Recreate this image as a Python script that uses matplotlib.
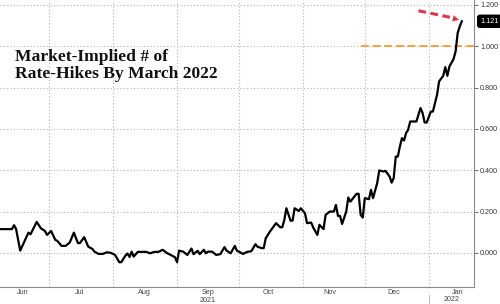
import pandas as pd
import matplotlib
matplotlib.use('Agg')
import matplotlib.pyplot as plt
import matplotlib.dates as mdates
import matplotlib.transforms as mtrans
from matplotlib.ticker import FixedLocator

# valores (numero de subidas implicitas ate marco 2022)
datas = ['2021-06-07', '2021-06-13', '2021-06-14', '2021-06-15', '2021-06-17', '2021-06-21',
         '2021-06-22', '2021-06-25', '2021-06-27', '2021-06-29', '2021-06-30',
         '2021-07-02', '2021-07-04', '2021-07-05', '2021-07-07', '2021-07-09', '2021-07-11',
         '2021-07-13', '2021-07-15', '2021-07-16', '2021-07-18', '2021-07-20', '2021-07-22',
         '2021-07-23', '2021-07-25', '2021-07-27', '2021-07-29', '2021-07-31',
         '2021-08-02', '2021-08-04', '2021-08-05', '2021-08-07', '2021-08-08', '2021-08-09',
         '2021-08-10', '2021-08-11', '2021-08-13', '2021-08-17', '2021-08-19', '2021-08-21',
         '2021-08-23', '2021-08-25', '2021-08-27', '2021-08-31',
         '2021-09-01', '2021-09-02', '2021-09-04', '2021-09-06', '2021-09-08', '2021-09-09',
         '2021-09-11', '2021-09-12', '2021-09-14', '2021-09-15', '2021-09-16', '2021-09-18',
         '2021-09-20', '2021-09-22', '2021-09-24', '2021-09-25', '2021-09-27', '2021-09-29',
         '2021-09-30',
         '2021-10-03', '2021-10-05', '2021-10-07', '2021-10-09', '2021-10-10', '2021-10-12',
         '2021-10-13', '2021-10-14', '2021-10-16', '2021-10-19', '2021-10-21', '2021-10-22',
         '2021-10-23', '2021-10-24', '2021-10-26', '2021-10-27', '2021-10-28', '2021-10-30',
         '2021-10-31',
         '2021-11-02', '2021-11-03', '2021-11-05', '2021-11-06', '2021-11-08', '2021-11-09',
         '2021-11-11', '2021-11-12', '2021-11-14', '2021-11-16', '2021-11-17', '2021-11-18',
         '2021-11-19', '2021-11-20', '2021-11-22', '2021-11-23', '2021-11-24', '2021-11-26',
         '2021-11-27', '2021-11-28', '2021-11-29', '2021-11-30',
         '2021-12-01', '2021-12-03', '2021-12-04', '2021-12-05', '2021-12-07', '2021-12-08',
         '2021-12-10', '2021-12-11', '2021-12-13', '2021-12-14', '2021-12-15', '2021-12-16',
         '2021-12-17', '2021-12-18', '2021-12-19', '2021-12-20', '2021-12-21', '2021-12-22',
         '2021-12-23', '2021-12-24', '2021-12-26', '2021-12-28', '2021-12-29', '2021-12-30',
         '2021-12-31',
         '2022-01-02', '2022-01-03', '2022-01-05', '2022-01-06', '2022-01-08', '2022-01-09',
         '2022-01-10', '2022-01-11', '2022-01-13', '2022-01-14', '2022-01-15', '2022-01-16',
         '2022-01-17']

subidas = [0.115, 0.115, 0.134, 0.116, 0.011, 0.098,
           0.090, 0.150, 0.119, 0.106, 0.087,
           0.106, 0.063, 0.058, 0.034, 0.034, 0.050,
           0.098, 0.047, 0.048, 0.076, 0.030, 0.019,
           0.006, -0.005, -0.005, 0.003, 0.000,
           -0.010, -0.045, -0.045, -0.013, -0.003, -0.020,
           0.006, -0.018, 0.005, 0.005, -0.002, 0.005,
           0.005, 0.015, 0.000, -0.021,
           -0.045, 0.011, 0.006, -0.010, 0.021, -0.006,
           0.010, -0.006, 0.015, -0.002, 0.006, 0.006,
           -0.010, -0.006, 0.028, 0.011, -0.002, 0.034,
           0.011,
           -0.005, 0.005, 0.008, 0.042, 0.030, 0.023,
           0.023, 0.071, 0.103, 0.144, 0.124, 0.124,
           0.160, 0.216, 0.156, 0.156, 0.216, 0.203,
           0.216,
           0.192, 0.144, 0.147, 0.123, 0.087, 0.136,
           0.115, 0.184, 0.200, 0.200, 0.232, 0.179,
           0.179, 0.140, 0.200, 0.268, 0.248, 0.273,
           0.286, 0.286, 0.184, 0.171,
           0.265, 0.260, 0.305, 0.265, 0.338, 0.399,
           0.394, 0.397, 0.370, 0.340, 0.362, 0.466,
           0.466, 0.515, 0.555, 0.544, 0.580, 0.596,
           0.636, 0.636, 0.636, 0.701, 0.677, 0.631,
           0.631,
           0.684, 0.684, 0.765, 0.830, 0.857, 0.899,
           0.857, 0.902, 0.938, 0.975, 1.064, 1.096,
           1.121]

y_ticks = [0.0, 0.2, 0.4, 0.6, 0.8, 1.0, 1.2]
# onde ficam os nomes dos meses (a meio da parte visivel de cada mes)
meses_pos = ['2021-06-18', '2021-07-16', '2021-08-16', '2021-09-16',
             '2021-10-15', '2021-11-14', '2021-12-15', '2022-01-15']
meses = ['Jun', 'Jul', 'Aug', 'Sep', 'Oct', 'Nov', 'Dec', 'Jan']
ultimo = 1.121

df = pd.DataFrame({'data': pd.to_datetime(datas), 'valor': subidas})

fig = plt.figure(figsize=(5.0, 3.04), dpi=100)
ax = fig.add_axes([0.0, 0.056, 0.948, 0.944])

ax.plot(df['data'], df['valor'], color='black', lw=1.6, zorder=3)

ax.set_xlim(pd.Timestamp('2021-06-07 05:00'), pd.Timestamp('2022-01-22 22:00'))
ax.set_ylim(-0.165, 1.224)

# eixo y a direita
ax.yaxis.tick_right()
ax.set_yticks(y_ticks)
ax.set_yticklabels([f'{v:.3f}' for v in y_ticks])
ax.tick_params(axis='y', length=3, width=0.6, color='#555555', pad=1.5,
               labelsize=5.2, labelcolor='#333333')
for lab in ax.get_yticklabels():
    lab.set_family('Liberation Sans')

# eixo x: grelha no inicio de cada mes, nomes a meio do mes
ax.xaxis.set_major_locator(mdates.MonthLocator())
ax.xaxis.set_major_formatter(plt.NullFormatter())
ax.xaxis.set_minor_locator(FixedLocator(mdates.date2num(pd.to_datetime(meses_pos))))
ax.set_xticklabels(meses, minor=True)
ax.tick_params(axis='x', which='both', length=0, pad=1.2, labelsize=5.2,
               labelcolor='#444444')
for lab in ax.get_xticklabels(minor=True):
    lab.set_family('Liberation Sans')

ax.grid(True, which='major', color='#b0b0b0', linestyle=(0, (1, 2)), lw=0.8)
for s in ['top', 'left']:
    ax.spines[s].set_visible(False)
for s in ['bottom', 'right']:
    ax.spines[s].set_color('#8a8a8a')
    ax.spines[s].set_linewidth(0.8)

# anos por baixo dos meses
trans = mtrans.blended_transform_factory(ax.transData, ax.transAxes)
ax.text(pd.Timestamp('2021-09-16'), -0.047, '2021', transform=trans, ha='center',
        va='center', fontsize=5.2, color='#444444', family='Liberation Sans')
ax.text(pd.Timestamp('2022-01-12'), -0.044, '2022', transform=trans, ha='center',
        va='center', fontsize=5.2, color='#444444', family='Liberation Sans')
ax.plot([pd.Timestamp('2022-01-01')] * 2, [-0.028, -0.07], transform=trans,
        color='#bbbbbb', lw=0.8, clip_on=False)

# linha laranja em 1.0 a partir de dezembro
ax.plot([pd.Timestamp('2021-11-29'), pd.Timestamp('2022-01-22 22:00')], [1.0, 1.0],
        color='#f2a33a', lw=1.4, linestyle=(0, (4, 2)), zorder=2)

# seta vermelha tracejada
ax.plot([pd.Timestamp('2021-12-27'), pd.Timestamp('2022-01-12')], [1.172, 1.139],
        color='#e2334d', lw=2.2, linestyle=(0, (2.5, 1.5)), zorder=4)
ax.annotate('', xy=(pd.Timestamp('2022-01-17'), 1.124),
            xytext=(pd.Timestamp('2022-01-11'), 1.140),
            arrowprops=dict(arrowstyle='-|>', color='#e2334d', lw=0.1,
                            mutation_scale=11), zorder=4)

# etiqueta do ultimo valor
ax.annotate(f'{ultimo:.3f}', xy=(1.0, ultimo), xycoords=('axes fraction', 'data'),
            xytext=(4.5, 0), textcoords='offset points', va='center', ha='left',
            fontsize=5.2, color='white', family='Liberation Sans',
            bbox=dict(boxstyle='round,pad=0.35,rounding_size=0.3', fc='black', ec='black'),
            annotation_clip=False)

# titulo dentro do grafico
fig.text(0.03, 0.838, 'Market-Implied # of\nRate-Hikes By March 2022', ha='left', va='top',
         fontsize=12.6, fontweight='bold', family='Liberation Serif', color='#111111',
         linespacing=1.05)

fig.savefig('out.png', dpi=100)
